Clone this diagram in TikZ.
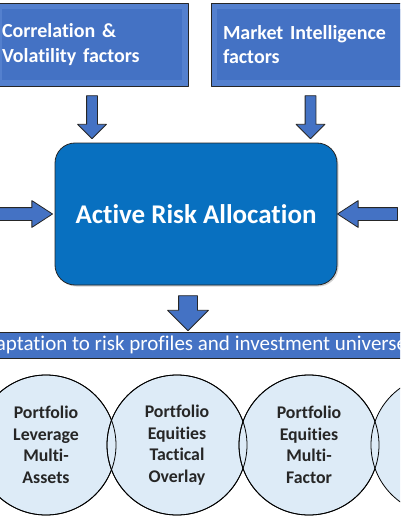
\documentclass[tikz,border=0pt]{standalone}
\usepackage{fontspec}
\setmainfont[Ligatures=NoCommon]{Carlito}
\usetikzlibrary{shapes.arrows,calc,shadows}

\definecolor{factorblue}{RGB}{68,114,196}
\definecolor{bevelblue}{RGB}{84,128,206}
\definecolor{coreblue}{RGB}{8,112,192}
\definecolor{circfill}{RGB}{221,235,247}
\definecolor{circtext}{RGB}{38,38,38}

\begin{document}
\begin{tikzpicture}[x=1pt,y=-1pt,line join=round,
  factorbox/.style={draw=black!85,line width=0.8pt,fill=bevelblue,minimum height=83pt,inner ysep=0pt,
    align=left,text=white,font=\bfseries\fontsize{20}{24.5}\selectfont,
    path picture={\fill[factorblue] ($(path picture bounding box.south west)+(6pt,6pt)$) rectangle ($(path picture bounding box.north east)+(-6pt,-6pt)$);}},
  corebox/.style={draw=black!85,line width=0.8pt,fill=coreblue,rounded corners=20pt,minimum width=282pt,minimum height=142pt,
    text=white,font=\bfseries\fontsize{27}{32}\selectfont,drop shadow={opacity=0.35,shadow xshift=1.5pt,shadow yshift=-1.5pt}},
  barbox/.style={draw=black!85,line width=0.8pt,fill=factorblue,minimum width=470pt,minimum height=26pt,inner sep=0pt,
    text=white,font=\fontsize{21}{25}\selectfont},
  portfolio/.style={circle,draw=black,line width=0.8pt,fill=circfill,minimum size=140pt,inner sep=0pt,align=center,
    text=circtext,font=\bfseries\fontsize{17.8}{21.5}\selectfont},
  blockarrow/.style={single arrow,draw=black!85,fill=factorblue,line width=0.8pt},
  downarrow/.style={blockarrow,shape border rotate=270,inner sep=5pt,single arrow head extend=9pt,minimum height=43pt},
  bigdownarrow/.style={blockarrow,shape border rotate=270,inner sep=9pt,single arrow head extend=11pt,minimum height=35pt},
  siderarrow/.style={blockarrow,inner sep=6pt,single arrow head extend=7pt,single arrow tip angle=66,minimum height=60pt}]
  \clip (0,0) rectangle (400,516);
  \fill[white] (0,0) rectangle (400,516);

  % factor boxes
  \node[factorbox,inner xsep=6pt,text width=180pt] (corr) at (92,44.5) {Correlation \&\\Volatility factors};
  \node[factorbox,inner xsep=12pt,text width=175pt] (mkt) at (310.5,44.5) {Market Intelligence\\factors};

  % core
  \node[corebox] (ara) at (196,214) {Active Risk Allocation};

  \node[barbox] (adapt) at (194,345) {Adaptation to risk profiles and investment universes};

  % arrows
  \node[downarrow] (arrCorr) at ($(corr.south)!0.5!(corr.south |- ara.north)$) {};
  \node[downarrow] (arrMkt) at ($(mkt.south)!0.5!(mkt.south |- ara.north)$) {};
  \node[siderarrow] (arrLeft) at ($(ara.west)+(-37,0)$) {};
  \node[siderarrow,shape border rotate=180] (arrRight) at ($(ara.east)+(35,0)$) {};
  \node[bigdownarrow] (arrAdapt) at ($(ara.south)!0.5!(ara.south |- adapt.north)+(-8,0)$) {};

  % portfolios
  \foreach \i/\x/\txt in {1/46/{Portfolio\\Leverage\\Multi-\\Assets},
                          2/177/{Portfolio\\Equities\\Tactical\\Overlay},
                          3/309/{Portfolio\\Equities\\Multi-\\Factor},
                          4/441/{}} {
    \node[portfolio] (pf\i) at (\x,445) {\txt};
  }
  \foreach \i in {1,2,3} {
    \draw[line width=0.8pt] (pf\i.center) circle[radius=70pt];
  }
\end{tikzpicture}
\end{document}
